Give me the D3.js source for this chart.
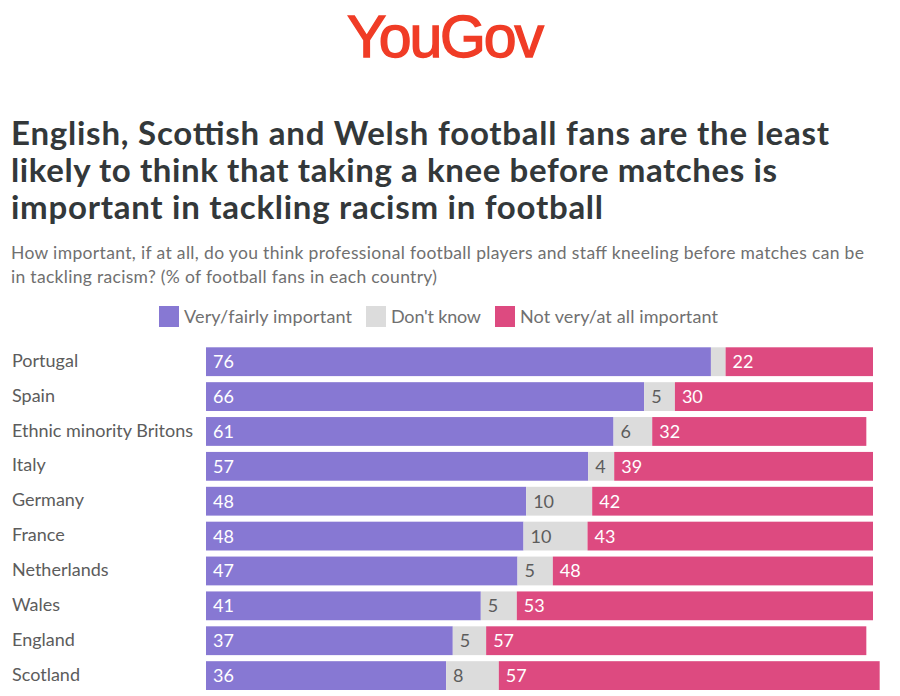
<!DOCTYPE html>
<html>
<head>
<meta charset="utf-8">
<script src="https://cdnjs.cloudflare.com/ajax/libs/d3/7.8.5/d3.min.js"></script>
<style>
    body { margin: 0; background: #fff; }
    text { font-family: Lato, "Open Sans", sans-serif; }
</style>
</head>
<body>
<div id="chart"></div>
<script>
// bars are drawn from unrounded shares and labelled rounded
var countries = ["Portugal", "Spain", "Ethnic minority Britons", "Italy", "Germany", "France", "Netherlands", "Wales", "England", "Scotland"];
var important = [75.7, 65.7, 61.1, 57.3, 48, 47.6, 46.7, 41.2, 37, 36];
var dontKnow = [2.2, 4.6, 5.8, 3.9, 9.9, 9.6, 5.3, 5.4, 5, 7.9];
var notImportant = [22.1, 29.7, 32.1, 38.8, 42.1, 42.8, 48, 53.4, 57, 57.1];
var legendLabels = ["Very/fairly important", "Don't know", "Not very/at all important"];
var titleLines = ["English, Scottish and Welsh football fans are the least",
    "likely to think that taking a knee before matches is",
    "important in tackling racism in football"];
var subtitleLines = ["How important, if at all, do you think professional football players and staff kneeling before matches can be",
    "in tackling racism? (% of football fans in each country)"];

var colors = ["#8778d3", "#dcdcdc", "#dd4a80"];
var textColors = ["#fff", "#5c5c5c", "#fff"];

// Raleway is not installed, so line widths are fitted to the original
var titleWidths = [818, 766, 592];
var subtitleWidths = [853, 426];
var legendX = [159, 366, 495];
var legendWidths = [168, 90, 198];

var svg = d3.select("#chart").append("svg")
    .attr("width", 900)
    .attr("height", 696)
    .style("display", "block");

// logo
svg.append("text")
    .attr("x", 347).attr("y", 56.5)
    .attr("textLength", 197)
    .style("font-family", "Liberation Sans")
    .style("font-size", "59px")
    .attr("fill", "#f03c26")
    .attr("stroke", "#f03c26")
    .attr("stroke-width", 1.4)
    .text("YouGov");

svg.selectAll(".title").data(titleLines).enter().append("text")
    .attr("class", "title")
    .attr("x", 11)
    .attr("y", function (d, i) { return 144.5 + i * 37.3; })
    .attr("textLength", function (d, i) { return titleWidths[i]; })
    .style("font-size", "33px")
    .style("font-weight", 700)
    .attr("fill", "#33383a")
    .text(function (d) { return d; });

svg.selectAll(".subtitle").data(subtitleLines).enter().append("text")
    .attr("class", "subtitle")
    .attr("x", 11)
    .attr("y", function (d, i) { return 259 + i * 24; })
    .attr("textLength", function (d, i) { return subtitleWidths[i]; })
    .style("font-size", "17.5px")
    .attr("fill", "#707070")
    .text(function (d) { return d; });

// legend
var legend = svg.selectAll(".legend").data(legendLabels).enter().append("g")
    .attr("class", "legend")
    .attr("transform", function (d, i) { return "translate(" + legendX[i] + ",306)"; });
legend.append("rect")
    .attr("width", 20).attr("height", 21)
    .attr("fill", function (d, i) { return colors[i]; });
legend.append("text")
    .attr("x", 25).attr("y", 16.5)
    .attr("textLength", function (d, i) { return legendWidths[i]; })
    .style("font-size", "18px")
    .attr("fill", "#707070")
    .text(function (d) { return d; });

// bars
var x = d3.scaleLinear().domain([0, 100]).range([206, 873]);
var y = d3.scaleBand().domain(countries).range([347.3, 690]).paddingInner(0.174).paddingOuter(0);

var yAxis = d3.axisLeft(y).tickSize(0).tickPadding(0);
var axisG = svg.append("g")
    .attr("class", "yaxis")
    .attr("transform", "translate(12,0)")
    .call(yAxis);
axisG.select(".domain").remove();
axisG.selectAll("text")
    .style("text-anchor", "start")
    .style("font-family", "Lato")
    .style("font-size", "18px")
    .attr("dy", "0.28em")
    .attr("fill", "#5c5c5c");

var series = [important, dontKnow, notImportant];
var rows = svg.selectAll(".row").data(countries).enter().append("g")
    .attr("class", "row")
    .attr("transform", function (d) { return "translate(0," + y(d) + ")"; });

rows.each(function (country, r) {
    var start = 0;
    var row = d3.select(this);
    series.forEach(function (values, s) {
        var v = values[r];
        row.append("rect")
            .attr("x", x(start))
            .attr("width", x(start + v) - x(start))
            .attr("height", y.bandwidth())
            .attr("fill", colors[s]);
        // the smallest segments have no label
        if (v >= 3) {
            row.append("text")
                .attr("x", x(start) + 7)
                .attr("y", y.bandwidth() / 2)
                .attr("dy", "0.36em")
                .style("font-size", "18px")
                .attr("fill", textColors[s])
                .text(d3.format(".0f")(v));
        }
        start += v;
    });
});
</script>
</body>
</html>
